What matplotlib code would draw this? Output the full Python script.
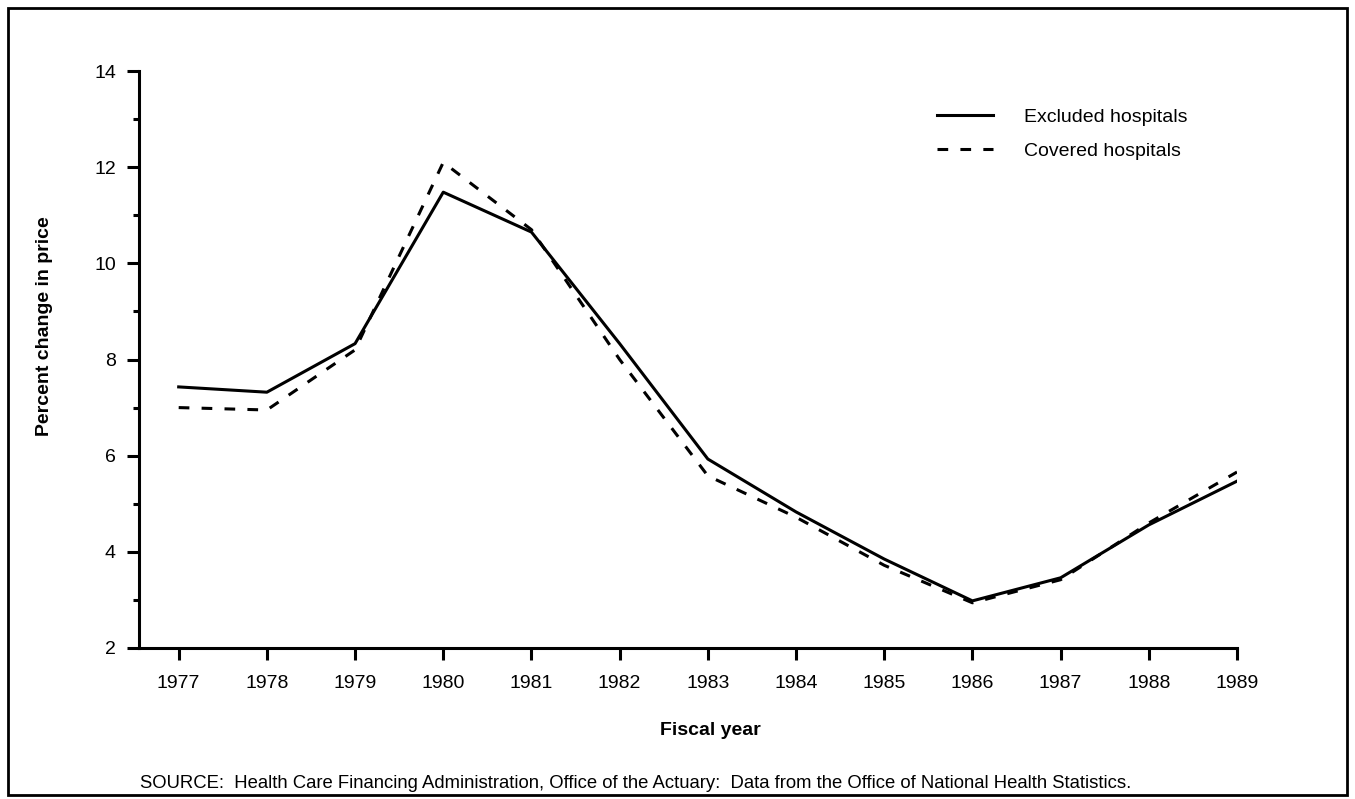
import matplotlib
matplotlib.use("Agg")
import matplotlib.pyplot as plt
from matplotlib.patches import Rectangle
from matplotlib.ticker import MultipleLocator

plt.rcParams['font.family'] = ['Liberation Sans', 'DejaVu Sans']

# Data
years = [1977, 1978, 1979, 1980, 1981, 1982, 1983, 1984, 1985, 1986, 1987, 1988, 1989]
excluded = [7.43, 7.32, 8.33, 11.48, 10.65, 8.33, 5.93, 4.83, 3.85, 2.98, 3.46, 4.56, 5.47]
covered = [7.0, 6.95, 8.2, 12.1, 10.7, 8.0, 5.58, 4.72, 3.72, 2.94, 3.42, 4.6, 5.66]

fig = plt.figure(figsize=(13.55, 7.99), dpi=100)
ax = fig.add_axes([139 / 1355, 1 - 648 / 799, 1098 / 1355, 577 / 799])

ax.plot(years, excluded, color='black', linewidth=2.2, label='Excluded hospitals')
ax.plot(years, covered, color='black', linewidth=2.2, linestyle=(0, (3.5, 4)),
        label='Covered hospitals')

ax.set_xlim(1976.55, 1989)
ax.set_ylim(2, 14)
ax.set_xticks(years)
ax.set_xticklabels([str(y) for y in years])
ax.yaxis.set_major_locator(MultipleLocator(2))
ax.yaxis.set_minor_locator(MultipleLocator(1))

for side in ('top', 'right'):
    ax.spines[side].set_visible(False)
for side in ('left', 'bottom'):
    ax.spines[side].set_linewidth(2.2)

ax.tick_params(axis='both', which='major', direction='out', length=8.6, width=2.2,
               labelsize=14)
ax.tick_params(axis='x', which='major', pad=11)
ax.tick_params(axis='y', which='major', pad=8)
ax.tick_params(axis='y', which='minor', direction='out', length=4, width=2.2)

ax.set_xlabel('Fiscal year', fontsize=14, fontweight='bold')
ax.set_ylabel('Percent change in price', fontsize=14, fontweight='bold')
ax.xaxis.set_label_coords(0.52, -0.128)
ax.yaxis.set_label_coords(-0.078, 0.558)

ax.legend(frameon=False, loc='upper left', bbox_to_anchor=(0.727, 0.935),
          borderpad=0, borderaxespad=0, fontsize=14, handlelength=2.85,
          handletextpad=1.6, labelspacing=0.85)

fig.text(140 / 1355, 1 - 783 / 799, 'SOURCE:  Health Care Financing Administration, '
         'Office of the Actuary:  Data from the Office of National Health Statistics.',
         fontsize=13.3, va='center', ha='left')

fig.patches.append(Rectangle((0.006, 0.005), 0.988, 0.985, transform=fig.transFigure,
                             fill=False, edgecolor='black', linewidth=2))

fig.savefig('out.png', dpi=100)
